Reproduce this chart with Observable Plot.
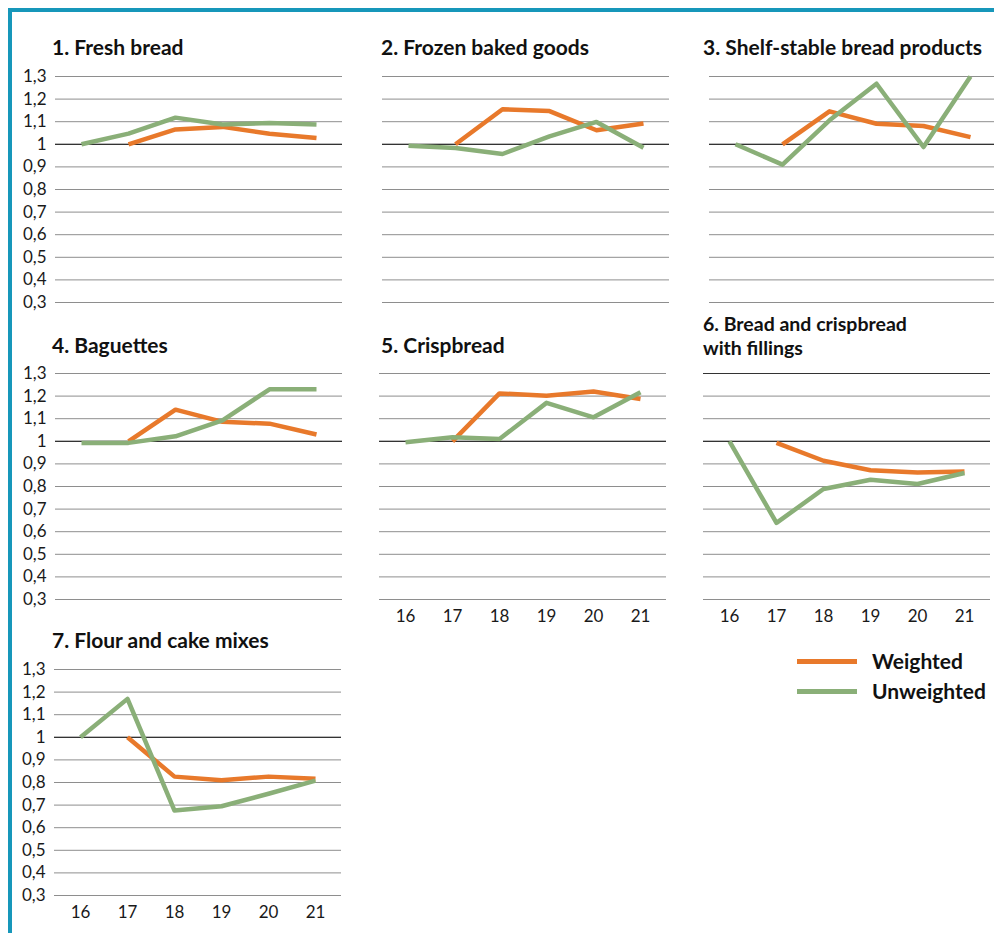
<!DOCTYPE html>
<html><head><meta charset="utf-8">
<script src="https://cdn.jsdelivr.net/npm/d3@7"></script>
<script src="https://cdn.jsdelivr.net/npm/@observablehq/plot@0.6"></script>
<style>
html,body{margin:0;padding:0;background:#fff;width:994px;height:933px;overflow:hidden;}
#root{position:relative;width:994px;height:933px;font-family:Lato,sans-serif;overflow:hidden;}
.frame{position:absolute;left:8px;top:8px;width:2000px;height:2000px;border-top:4px solid #1797ba;border-left:4px solid #1797ba;box-sizing:border-box;}
.title{position:absolute;font-weight:bold;font-size:21px;color:#111;line-height:21px;white-space:nowrap;}
.panel{position:absolute;}
.sw{position:absolute;width:60px;height:5px;}
.lg{position:absolute;font-weight:bold;font-size:21px;color:#111;line-height:21px;white-space:nowrap;}
</style></head><body><div id="root"><div class="frame"></div></div>
<script>
// ---- data ----
const years = [16, 17, 18, 19, 20, 21];
const yTicks = [0.3, 0.4, 0.5, 0.6, 0.7, 0.8, 0.9, 1.0, 1.1, 1.2, 1.3];
const seriesNames = ["Weighted", "Unweighted"];

const titles = [
  ["1. Fresh bread"],
  ["2. Frozen baked goods"],
  ["3. Shelf-stable bread products"],
  ["4. Baguettes"],
  ["5. Crispbread"],
  ["6. Bread and crispbread", "with fillings"],
  ["7. Flour and cake mixes"]
];

const weighted1 = [null, 1.00, 1.066, 1.077, 1.047, 1.028];
const unweighted1 = [1.00, 1.047, 1.118, 1.088, 1.094, 1.088];

const weighted2 = [null, 1.00, 1.155, 1.147, 1.062, 1.092];
const unweighted2 = [0.994, 0.984, 0.957, 1.035, 1.099, 0.985];

const weighted3 = [null, 1.00, 1.146, 1.091, 1.081, 1.032];
const unweighted3 = [1.00, 0.91, 1.106, 1.268, 0.988, 1.30];

const weighted4 = [null, 1.00, 1.14, 1.086, 1.078, 1.03];
const unweighted4 = [0.993, 0.993, 1.022, 1.093, 1.23, 1.23];

const weighted5 = [null, 1.00, 1.212, 1.202, 1.22, 1.187];
const unweighted5 = [0.996, 1.018, 1.01, 1.17, 1.106, 1.217];

const weighted6 = [null, 0.993, 0.914, 0.872, 0.862, 0.866];
const unweighted6 = [1.00, 0.639, 0.789, 0.83, 0.811, 0.86];

const weighted7 = [null, 1.00, 0.826, 0.81, 0.826, 0.817];
const unweighted7 = [1.00, 1.17, 0.676, 0.695, 0.75, 0.808];

const weightedAll = [weighted1, weighted2, weighted3, weighted4, weighted5, weighted6, weighted7];
const unweightedAll = [unweighted1, unweighted2, unweighted3, unweighted4, unweighted5, unweighted6, unweighted7];

// ---- layout ----
const colors = {Weighted: "#e8792b", Unweighted: "#8aaf78"};
const PW = 287, PH = 226, MT = 10, MB = 34;
const panels = [
  {gx: 55,  gy: 76,  showY: true,  showX: false, tx: 52,  ty: 36,  fs: 21, lh: 21, topDark: false},
  {gx: 382, gy: 76,  showY: false, showX: false, tx: 381, ty: 36,  fs: 21, lh: 21, topDark: false},
  {gx: 709, gy: 76,  showY: false, showX: false, tx: 703, ty: 36,  fs: 21, lh: 21, topDark: false},
  {gx: 55,  gy: 373, showY: true,  showX: false, tx: 52,  ty: 334, fs: 21, lh: 21, topDark: false},
  {gx: 379, gy: 373, showY: false, showX: true,  tx: 381, ty: 334, fs: 21, lh: 21, topDark: false},
  {gx: 703, gy: 373, showY: false, showX: true,  tx: 703, ty: 312, fs: 19.5, lh: 23.5, topDark: true},
  {gx: 54,  gy: 669, showY: true,  showX: true,  tx: 52,  ty: 629, fs: 21, lh: 21, topDark: false}
];

const root = document.getElementById("root");
const fmt = d => String(+d.toFixed(1)).replace(".", ",");

panels.forEach((p, k) => {
  const data = [];
  years.forEach((yr, i) => {
    data.push({year: yr, value: weightedAll[k][i], series: "Weighted"});
  });
  years.forEach((yr, i) => {
    data.push({year: yr, value: unweightedAll[k][i], series: "Unweighted"});
  });
  const ML = p.showY ? 55 : 0;
  const MR = 4;
  const chart = Plot.plot({
    width: ML + PW + MR,
    height: MT + PH + MB,
    marginLeft: ML,
    marginRight: MR,
    marginTop: MT,
    marginBottom: MB,
    style: {fontFamily: "Lato, sans-serif", fontSize: "17px", color: "#1a1a1a", background: "transparent", overflow: "visible"},
    x: {type: "point", domain: years, padding: 0.5, axis: p.showX ? "bottom" : null, tickSize: 0, tickPadding: 10, label: null},
    y: {domain: [0.3, 1.3], axis: p.showY ? "left" : null, ticks: yTicks, tickSize: 0, tickPadding: 9, tickFormat: fmt, label: null},
    color: {domain: seriesNames, range: seriesNames.map(s => colors[s])},
    marks: [
      Plot.ruleY(yTicks, {stroke: "#8e8e8e", strokeWidth: 1}),
      Plot.ruleY([1.0], {stroke: "#333", strokeWidth: 1.2}),
      p.topDark ? Plot.ruleY([1.3], {stroke: "#333", strokeWidth: 1.2}) : null,
      Plot.line(data.filter(d => d.series === "Weighted"), {x: "year", y: "value", stroke: "series", strokeWidth: 4.5, strokeLinejoin: "round", strokeLinecap: "butt"}),
      Plot.line(data.filter(d => d.series === "Unweighted"), {x: "year", y: "value", stroke: "series", strokeWidth: 4.5, strokeLinejoin: "round", strokeLinecap: "butt"})
    ]
  });
  chart.classList.add("panel");
  chart.style.left = (p.gx - ML) + "px";
  chart.style.top = (p.gy - MT) + "px";
  root.appendChild(chart);

  titles[k].forEach((line, j) => {
    const t = document.createElement("div");
    t.className = "title";
    t.style.left = p.tx + "px";
    t.style.top = (p.ty + j * p.lh) + "px";
    t.style.fontSize = p.fs + "px";
    t.style.lineHeight = p.lh + "px";
    t.textContent = line;
    root.appendChild(t);
  });
});

// ---- legend ----
seriesNames.forEach((s, i) => {
  const y = 661 + i * 30;
  const sw = document.createElement("div");
  sw.className = "sw";
  sw.style.left = "797px";
  sw.style.top = (y - 2.5) + "px";
  sw.style.background = colors[s];
  root.appendChild(sw);
  const lb = document.createElement("div");
  lb.className = "lg";
  lb.style.left = "872px";
  lb.style.top = (y - 11) + "px";
  lb.textContent = s;
  root.appendChild(lb);
});
</script>
</body></html>
